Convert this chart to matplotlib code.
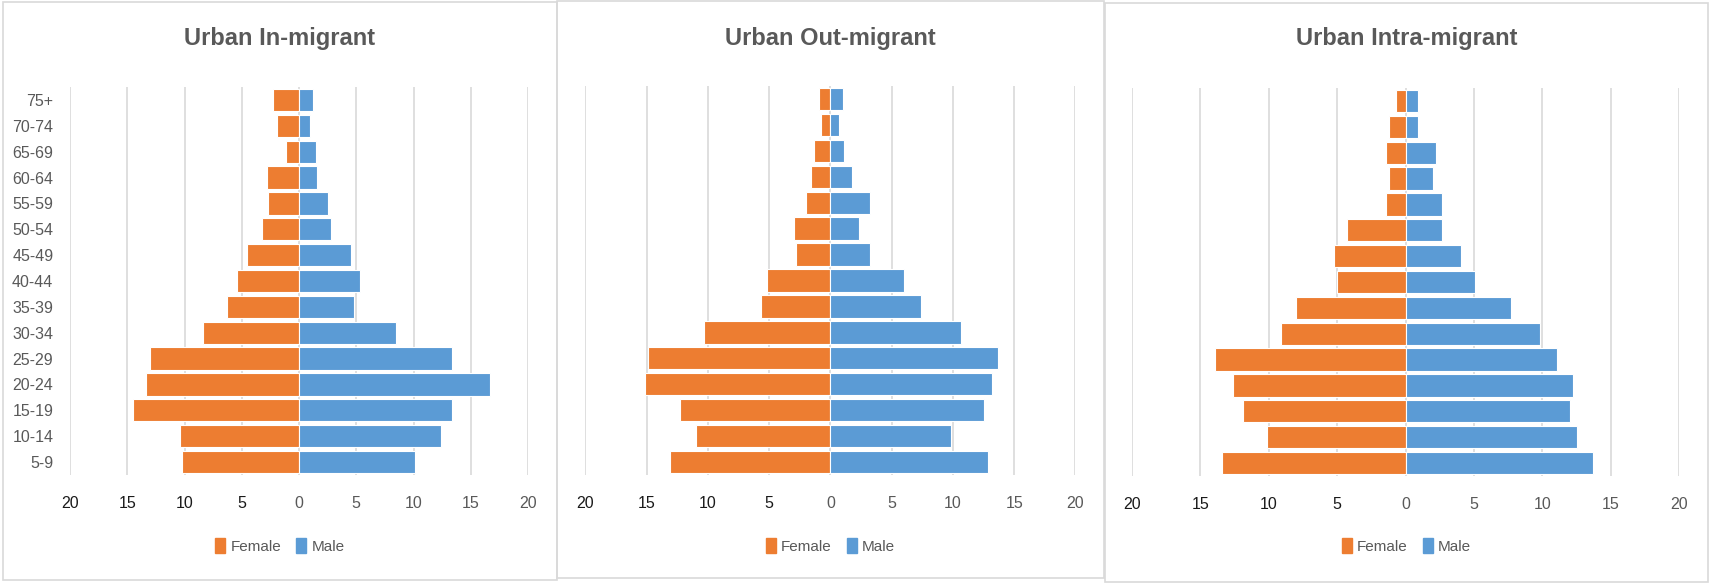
import matplotlib.pyplot as plt
from matplotlib.patches import Rectangle, Patch

# --- Data (percent of each migrant group, bottom age group first) ---
age_groups = ['5-9', '10-14', '15-19', '20-24', '25-29', '30-34', '35-39', '40-44',
              '45-49', '50-54', '55-59', '60-64', '65-69', '70-74', '75+']

in_female = [10.2, 10.4, 14.5, 13.4, 13.0, 8.4, 6.3, 5.4, 4.5, 3.2, 2.7, 2.8, 1.1, 1.9, 2.3]
in_male = [10.1, 12.4, 13.4, 16.7, 13.4, 8.5, 4.8, 5.3, 4.5, 2.8, 2.5, 1.6, 1.5, 1.0, 1.2]

out_female = [13.1, 11.0, 12.3, 15.1, 14.9, 10.35, 5.7, 5.2, 2.8, 3.0, 2.0, 1.6, 1.3, 0.8, 0.95]
out_male = [12.9, 9.85, 12.5, 13.2, 13.7, 10.7, 7.4, 6.0, 3.2, 2.3, 3.2, 1.8, 1.1, 0.7, 1.0]

intra_female = [13.4, 10.1, 11.9, 12.6, 13.9, 9.1, 8.0, 5.0, 5.2, 4.25, 1.46, 1.24, 1.46, 1.24, 0.73]
intra_male = [13.7, 12.56, 12.06, 12.25, 11.1, 9.86, 7.7, 5.1, 4.06, 2.7, 2.7, 2.0, 2.2, 0.93, 0.93]

titles = ['Urban In-migrant', 'Urban Out-migrant', 'Urban Intra-migrant']
tick_values = [-20, -15, -10, -5, 0, 5, 10, 15, 20]

# --- Style ---
plt.rcParams['font.family'] = ['Liberation Sans', 'DejaVu Sans']
c_female = '#ED7D31'
c_male = '#5B9BD5'
c_text = '#595959'
c_grid = '#D9D9D9'

W, H = 1709, 583
fig = plt.figure(figsize=(W / 100, H / 100), dpi=100)

# panel boxes (pixel coords, top-origin): x0, y0, x1, y1
boxes = [(3, 2, 557, 580), (557, 1, 1104, 578), (1105, 3, 1708, 582)]
# plot areas (pixel coords): left, right, top, bottom
areas = [(70, 528, 87, 475), (585.4, 1075.4, 86, 475), (1132, 1679, 88, 476)]
panels = [(in_female, in_male), (out_female, out_male), (intra_female, intra_male)]

for i, ((fem, mal), box, area, title) in enumerate(zip(panels, boxes, areas, titles)):
    x0, y0, x1, y1 = box
    fig.add_artist(Rectangle((x0 / W, 1 - y1 / H), (x1 - x0) / W, (y1 - y0) / H,
                             transform=fig.transFigure, fill=False,
                             edgecolor=c_grid, lw=1.2))
    l, r, t, b = area
    ax = fig.add_axes([l / W, 1 - b / H, (r - l) / W, (b - t) / H])
    y = range(len(age_groups))
    ax.barh(y, [-v for v in fem], height=0.86, color=c_female, edgecolor='white', lw=0.8, zorder=3)
    ax.barh(y, mal, height=0.86, color=c_male, edgecolor='white', lw=0.8, zorder=3)
    ax.set_xlim(-20, 20)
    ax.set_ylim(-0.5, len(age_groups) - 0.5)
    ax.set_xticks(tick_values)
    ax.set_xticklabels([str(abs(v)) for v in tick_values])
    for v, lab in zip(tick_values, ax.get_xticklabels()):
        lab.set_color('#1A1A1A' if v < 0 else c_text)
    ax.tick_params(axis='x', length=0, pad=15, labelsize=11.5)
    ax.set_yticks(list(y))
    if i == 0:
        ax.set_yticklabels(age_groups, color=c_text, fontsize=11.5)
        ax.tick_params(axis='y', length=0, pad=12)
    else:
        ax.set_yticklabels([])
        ax.tick_params(axis='y', length=0)
    ax.grid(axis='x', color=c_grid, lw=1.2, zorder=0)
    ax.grid(axis='y', visible=False)
    for s in ax.spines.values():
        s.set_visible(False)

    cx = (x0 + x1) / 2 / W
    fig.text(cx, 1 - 39 / H, title, ha='center', va='center',
             fontsize=17, fontweight='bold', color=c_text)
    handles = [Patch(color=c_female, label='Female'), Patch(color=c_male, label='Male')]
    fig.legend(handles=handles, loc='center', bbox_to_anchor=(cx, 1 - 546 / H), ncol=2,
               frameon=False, fontsize=11, labelcolor=c_text, handlelength=0.65,
               handleheight=1.1, handletextpad=0.35, columnspacing=1.0)

fig.savefig('out.png', dpi=100)
